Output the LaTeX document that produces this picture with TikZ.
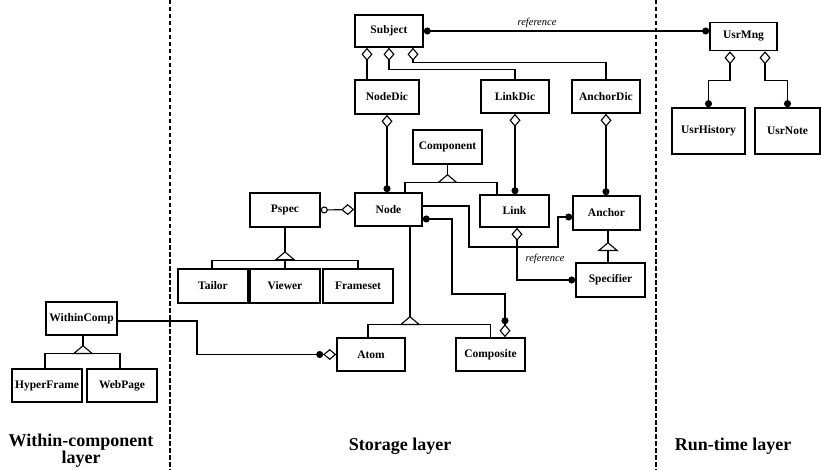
\documentclass[tikz,border=0pt]{standalone}
\usepackage{fontspec}
\setmainfont{Liberation Serif}
\usetikzlibrary{arrows.meta}
\begin{document}
\begin{tikzpicture}[x=1pt,y=-1pt,
  box/.style={draw,line width=1.6pt,inner sep=0pt,fill=white,font=\fontsize{11.5}{13}\selectfont\bfseries},
  con/.style={line width=1.1pt,line join=miter},
  lbl/.style={font=\fontsize{10.5}{12}\selectfont\itshape,inner sep=0pt},
  ttl/.style={font=\fontsize{18}{14.5}\selectfont\bfseries,align=center,inner sep=0pt},
  sep/.style={line width=1.4pt,dash pattern=on 4.5pt off 2.5pt},
  agg/.style={-{Diamond[open,length=13pt,width=11pt]}},
  dotagg/.style={{Circle[length=7pt]}-{Diamond[open,length=13pt,width=11pt]}},
  dotdot/.style={{Circle[length=7pt]}-{Circle[length=7pt]}},
  gen/.style={-{Triangle[open,reversed,length=9pt,width=21pt]}},
  part/.style={-{Circle[length=7pt]Diamond[open,length=13pt,width=11pt]}},
]
\useasboundingbox (0,0) rectangle (821,470);

% layer separators
\coordinate (s1t) at (170,0); \coordinate (s1b) at (170,470);
\coordinate (s2t) at (656,0); \coordinate (s2b) at (656,470);
\draw[sep] (s1t) -- (s1b);
\draw[sep] (s2t) -- (s2b);

% boxes
\node[box,minimum width=68pt,minimum height=32pt] (Subject) at (389,31) {Subject};
\node[box,minimum width=64pt,minimum height=34pt] (NodeDic) at (387,97) {NodeDic};
\node[box,minimum width=68pt,minimum height=33pt] (LinkDic) at (515,96.5) {LinkDic};
\node[box,minimum width=68pt,minimum height=33pt] (AnchorDic) at (606,96.5) {AnchorDic};
\node[box,minimum width=67pt,minimum height=28pt] (UsrMng) at (743.5,36.5) {UsrMng};
\node[box,minimum width=73pt,minimum height=46pt] (UsrHistory) at (708.5,131) {UsrHistory};
\node[box,minimum width=65pt,minimum height=46pt] (UsrNote) at (787.5,131) {UsrNote};
\node[box,minimum width=69pt,minimum height=34pt] (Component) at (447.5,147) {Component};
\node[box,minimum width=67pt,minimum height=33pt] (Node) at (388.5,209.5) {Node};
\node[box,minimum width=69pt,minimum height=32pt] (Link) at (514.5,211) {Link};
\node[box,minimum width=67pt,minimum height=34pt] (Anchor) at (606.5,213) {Anchor};
\node[box,minimum width=69pt,minimum height=34pt] (Specifier) at (610.5,280) {Specifier};
\node[box,minimum width=70pt,minimum height=34pt] (Pspec) at (285,210) {Pspec};
\node[box,minimum width=70pt,minimum height=34pt] (Tailor) at (213,286) {Tailor};
\node[box,minimum width=70pt,minimum height=34pt] (Viewer) at (285,286) {Viewer};
\node[box,minimum width=70pt,minimum height=34pt] (Frameset) at (358,286) {Frameset};
\node[box,minimum width=68pt,minimum height=33pt] (Atom) at (371,354.5) {Atom};
\node[box,minimum width=69pt,minimum height=33pt] (Composite) at (490.5,354.5) {Composite};
\node[box,minimum width=71pt,minimum height=33pt] (WithinComp) at (81.5,318.5) {WithinComp};
\node[box,minimum width=70pt,minimum height=33pt] (HyperFrame) at (47,385.5) {HyperFrame};
\node[box,minimum width=70pt,minimum height=33pt] (WebPage) at (122,385.5) {WebPage};

% Subject aggregations
\draw[con,agg] ([xshift=-20pt]NodeDic.north) -- ([xshift=-22pt]Subject.south);
\draw[con,agg] (LinkDic.north) -- ++(0,-10) -| (Subject.south);
\draw[con,agg] (AnchorDic.north) -- ++(0,-17) -| ([xshift=24pt]Subject.south);

% reference Subject - UsrMng
\draw[con,dotdot] (Subject.east) -- (UsrMng.west |- Subject.east);
\node[lbl] (ref1) at (537,23) {reference};

% UsrMng
\draw[con,dotagg] (UsrHistory.north) -- ++(0,-27) -| ([xshift=-13.5pt]UsrMng.south);
\draw[con,dotagg] (UsrNote.north) -- ++(0,-27) -| ([xshift=21.5pt]UsrMng.south);

% dictionaries
\draw[con,dotagg] (Node.north -| NodeDic.south) -- (NodeDic.south);
\draw[con,dotagg] (Link.north -| LinkDic.south) -- (LinkDic.south);
\draw[con,dotagg] (Anchor.north -| AnchorDic.south) -- (AnchorDic.south);

% Component generalization
\draw[con] ([xshift=16.5pt]Node.north) -- ++(0,-10) -| ([xshift=-17.5pt]Link.north);
\coordinate (cj) at (447.5,183);
\draw[con,gen] (Component.south) -- (cj);

% Pspec - Node
\draw[con,{Circle[open,length=7pt]}-{Diamond[open,length=13pt,width=11pt]}] (Pspec.east) -- (Node.west);

% Pspec generalization
\draw[con] ([xshift=-1pt]Tailor.north) -- ++(0,-8) -| (Frameset.north);
\draw[con] (Viewer.north) -- ++(0,-8) coordinate (pj);
\draw[con,gen] (Pspec.south) -- (pj);

% Node generalization
\draw[con] ([xshift=-3pt]Atom.north) -- ++(0,-13) -| (Composite.north);
\coordinate (nj) at (410,325);
\draw[con,gen] (nj |- Node.south) -- (nj);

% Node - Anchor
\draw[con,-{Circle[length=7pt]}] ([yshift=3.5pt]Node.east) -| (469,247) -| (558,217) -- ([yshift=-4pt]Anchor.west);

% Node - Composite
\draw[con,{Circle[length=7pt]}-{Circle[length=7pt]Diamond[open,length=13pt,width=11pt]}] ([yshift=-9.5pt]Node.east) -| (452,294) -| ([xshift=14.5pt]Composite.north);

% Link - Specifier reference
\draw[con,{Diamond[open,length=13pt,width=11pt]}-{Circle[length=7pt]}] ([xshift=2.5pt]Link.south) |- (Specifier.west);
\node[lbl] (ref2) at (545,259) {reference};

% Anchor generalization
\coordinate (aj) at (608,251);
\draw[con] (aj |- Specifier.north) -- (aj);
\draw[con,gen] (aj |- Anchor.south) -- (aj);

% WithinComp - Atom
\draw[con,part] ([yshift=-2.5pt]WithinComp.east) -| (197,354.5) -- (Atom.west);

% WithinComp generalization
\draw[con] ([xshift=-2pt]HyperFrame.north) -- ++(0,-15) -| ([xshift=-2pt]WebPage.north);
\coordinate (wj) at (83,354);
\draw[con,gen] (wj |- WithinComp.south) -- (wj);

% layer titles
\node[ttl] (t1) at (81,451) {Within-component\\layer};
\node[ttl] (t2) at (400,446) {Storage layer};
\node[ttl] (t3) at (733,446) {Run-time layer};
\end{tikzpicture}
\end{document}
